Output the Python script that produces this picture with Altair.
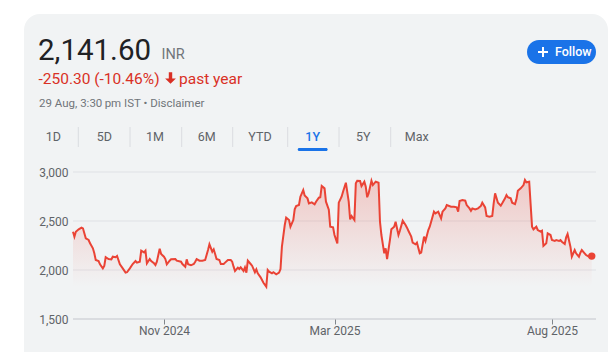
import altair as alt
import pandas as pd

# ---------------- data ----------------
start_date = "2024-08-29"
# days since 29 Aug 2024 for each traced point
day_offsets = [
    0, 1, 2, 4, 6, 7, 9, 11, 12, 14, 15, 16, 18, 19, 21, 22, 23, 25, 27, 28,
    30, 31, 33, 35, 37, 38, 40, 42, 44, 45, 47, 48, 50, 51, 52, 54, 55, 57, 58, 59,
    61, 62, 64, 65, 66, 68, 69, 72, 73, 76, 77, 79, 80, 81, 83, 85, 86, 87, 89, 91,
    93, 95, 96, 98, 99, 100, 101, 103, 104, 106, 107, 109, 111, 112, 113, 114, 116, 117, 118, 120,
    121, 122, 123, 125, 126, 128, 129, 130, 132, 134, 136, 137, 138, 140, 141, 143, 145, 146, 147, 149,
    150, 152, 153, 155, 156, 157, 159, 160, 162, 163, 165, 166, 168, 170, 171, 173, 174, 175, 177, 178,
    180, 181, 183, 184, 186, 187, 189, 190, 192, 194, 195, 196, 198, 199, 200, 202, 203, 205, 206, 207,
    208, 210, 211, 213, 215, 216, 217, 219, 220, 221, 223, 224, 226, 227, 229, 230, 232, 234, 235, 236,
    238, 239, 241, 242, 244, 245, 247, 248, 250, 251, 252, 254, 255, 257, 259, 260, 262, 263, 266, 268,
    270, 271, 272, 274, 276, 277, 279, 280, 281, 283, 285, 287, 288, 290, 291, 293, 295, 296, 297, 299,
    301, 302, 304, 305, 306, 308, 309, 311, 312, 313, 315, 317, 318, 319, 321, 323, 324, 326, 327, 329,
    330, 331, 333, 334, 336, 337, 339, 340, 342, 343, 344, 346, 347, 348, 350, 351, 353, 354, 356, 357,
    358, 360, 361, 363, 365,
]
prices = [
    2390, 2340, 2390, 2415, 2432, 2425, 2323, 2306, 2272, 2221, 2170, 2102, 2092, 2058, 2017, 2041, 2130, 2112, 2109, 2136,
    2130, 2143, 2058, 2017, 1973, 1977, 2017, 2061, 2092, 2075, 2085, 2197, 2180, 2197, 2068, 2112, 2092, 2068, 2051, 2085,
    2217, 2163, 2136, 2112, 2058, 2095, 2109, 2112, 2095, 2085, 2061, 2034, 2109, 2058, 2048, 2061, 2085, 2112, 2095, 2095,
    2102, 2204, 2262, 2187, 2211, 2163, 2112, 2102, 2061, 2061, 2075, 2102, 2102, 2085, 2034, 1990, 2024, 2010, 2027, 1990,
    2027, 1973, 2095, 2061, 2044, 1977, 2007, 1966, 1925, 1870, 1830, 2000, 1983, 1966, 1977, 1956, 1973, 2010, 2238, 2459,
    2534, 2510, 2442, 2510, 2619, 2653, 2663, 2748, 2816, 2760, 2731, 2680, 2690, 2670, 2697, 2738, 2742, 2857, 2833, 2697,
    2615, 2442, 2435, 2357, 2272, 2687, 2748, 2799, 2891, 2697, 2517, 2551, 2510, 2884, 2911, 2908, 2857, 2901, 2850, 2742,
    2782, 2911, 2867, 2901, 2891, 2493, 2357, 2170, 2221, 2112, 2306, 2415, 2442, 2493, 2357, 2401, 2503, 2459, 2432, 2401,
    2340, 2279, 2262, 2279, 2170, 2177, 2340, 2296, 2408, 2442, 2493, 2595, 2578, 2595, 2527, 2595, 2629, 2663, 2646, 2646,
    2639, 2595, 2704, 2714, 2707, 2663, 2629, 2605, 2629, 2619, 2629, 2653, 2687, 2639, 2551, 2544, 2551, 2680, 2782, 2687,
    2656, 2680, 2731, 2765, 2742, 2731, 2687, 2673, 2721, 2809, 2833, 2867, 2918, 2895, 2901, 2442, 2415, 2442, 2408, 2391,
    2401, 2245, 2272, 2374, 2357, 2306, 2296, 2306, 2296, 2306, 2289, 2265, 2333, 2367, 2238, 2136, 2204, 2170, 2136, 2177,
    2204, 2170, 2153, 2136, 2141.60,
]
y_ticks = [1500, 2000, 2500, 3000]
x_tick_dates = [(2024, 11, 1), (2025, 3, 1), (2025, 8, 1)]
tabs = ["1D", "5D", "1M", "6M", "YTD", "1Y", "5Y", "Max"]
selected_tab = "1Y"
price_text = "2,141.60"
currency_text = "INR"
change_text = "-250.30 (-10.46%)"
period_text = "past year"
stamp_text = "29 Aug, 3:30\u2009pm IST \u2022 Disclaimer"
follow_text = "Follow"

# ---------------- layout (page pixels) ----------------
PLOT_L, PLOT_T, PLOT_R, PLOT_B = 73, 172, 596, 319
W, H = 611, 352
def px(x):
    return x - PLOT_L
def py(y):
    return y - PLOT_T

tab_centers = [53.3, 104.3, 155, 206.7, 260, 312.7, 363.3, 416.7]
tab_separators = [78.3, 130, 181.7, 232.7, 287.7, 339, 390.7]

FONT = "Roboto"
RED_LINE = "#ea4335"
RED_TEXT = "#d93025"
BLUE = "#1a73e8"
CARD = "#f1f3f4"

df = pd.DataFrame({
    "date": pd.Timestamp(start_date) + pd.to_timedelta(day_offsets, unit="D"),
    "price": prices,
})
last_df = df.tail(1)
min_price = min(prices)

one = pd.DataFrame({"k": [0]})

def dt(t):
    return alt.DateTime(year=t[0], month=t[1], date=t[2])

x_enc = alt.X(
    "date:T",
    scale=alt.Scale(domain=[dt((2024, 8, 29)), dt((2025, 9, 1))]),
    axis=alt.Axis(
        values=[dt(t) for t in x_tick_dates], format="%b %Y", title=None,
        grid=False, domain=False, ticks=True, tickSize=5, tickColor="#80868b",
        labelPadding=1, zindex=1, labelFlush=False,
    ),
)
y_enc = alt.Y(
    "price:Q",
    scale=alt.Scale(domain=[1500, 3000], nice=False, zero=False),
    axis=alt.Axis(
        values=y_ticks, format=",d", title=None, grid=False, domain=False,
        ticks=False, labelPadding=5, zindex=1,
    ),
)

layers = []

# card background
layers.append(
    alt.Chart(one).mark_rect(color=CARD, cornerRadius=16).encode(
        x=alt.value(px(24)), x2=alt.value(px(608)),
        y=alt.value(py(14)), y2=alt.value(py(380)),
    )
)

# follow button
layers.append(
    alt.Chart(one).mark_rect(color=BLUE, cornerRadius=12).encode(
        x=alt.value(px(527)), x2=alt.value(px(596)),
        y=alt.value(py(40)), y2=alt.value(py(64)),
    )
)
layers.append(
    alt.Chart(one).mark_rule(color="white", strokeWidth=2).encode(
        x=alt.value(px(538)), x2=alt.value(px(548)), y=alt.value(py(52)),
    )
)
layers.append(
    alt.Chart(one).mark_rule(color="white", strokeWidth=2).encode(
        x=alt.value(px(543)), y=alt.value(py(47)), y2=alt.value(py(57)),
    )
)

def text_layer(txt, x, y, size, color, weight="normal", align="left", baseline="alphabetic"):
    return alt.Chart(pd.DataFrame({"t": [txt]})).mark_text(
        align=align, baseline=baseline, font=FONT, fontSize=size,
        color=color, fontWeight=weight,
    ).encode(x=alt.value(px(x)), y=alt.value(py(y)), text="t:N")

layers.append(text_layer(follow_text, 555, 56, 12.5, "white", weight=500))
layers.append(text_layer(price_text, 38, 60, 29.5, "#202124"))
layers.append(text_layer(currency_text, 161.5, 59, 14.5, "#70757a"))
layers.append(text_layer(change_text, 38.5, 83.5, 15.5, RED_TEXT))
layers.append(text_layer(period_text, 179, 83.5, 15.5, RED_TEXT))
layers.append(text_layer(stamp_text, 39, 106.5, 11.5, "#70757a"))

# down arrow icon
arrow_path = "M-0.3,-1 L0.3,-1 L0.3,0.1 L0.95,0.1 L0,1 L-0.95,0.1 L-0.3,0.1 Z"
layers.append(
    alt.Chart(one).mark_point(shape=arrow_path, filled=True, color=RED_TEXT, size=130, opacity=1).encode(
        x=alt.value(px(170.5)), y=alt.value(py(78)),
    )
)

# tabs
for lab, cx in zip(tabs, tab_centers):
    col = BLUE if lab == selected_tab else "#5f6368"
    layers.append(text_layer(lab, cx, 141, 12.5, col, weight=500 if lab == selected_tab else "normal", align="center"))
for sx in tab_separators:
    layers.append(
        alt.Chart(one).mark_rule(color="#dadce0", strokeWidth=1).encode(
            x=alt.value(px(sx)), y=alt.value(py(127)), y2=alt.value(py(147)),
        )
    )
sel_cx = tab_centers[tabs.index(selected_tab)]
layers.append(
    alt.Chart(one).mark_rect(color=BLUE, cornerRadius=1.5).encode(
        x=alt.value(px(sel_cx - 15)), x2=alt.value(px(sel_cx + 15)),
        y=alt.value(py(148)), y2=alt.value(py(151)),
    )
)

# grid lines and baseline
grid_df = pd.DataFrame({"price": y_ticks[1:]})
base_df = pd.DataFrame({"price": y_ticks[:1]})
layers.append(alt.Chart(grid_df).mark_rule(color="#dfe1e5", strokeWidth=1).encode(y=y_enc))
layers.append(alt.Chart(base_df).mark_rule(color="#dadce0", strokeWidth=2).encode(y=y_enc))

# area, line, last-point dot
area = alt.Chart(df).mark_area(
    color=alt.Gradient(
        gradient="linear",
        stops=[
            alt.GradientStop(color="rgba(234,67,53,0.24)", offset=0),
            alt.GradientStop(color="rgba(234,67,53,0.0)", offset=1),
        ],
        x1=0, x2=0, y1=0, y2=1,
    ),
    interpolate="linear",
).encode(x=x_enc, y=y_enc, y2=alt.Y2(datum=min_price))
line = alt.Chart(df).mark_line(color=RED_LINE, strokeWidth=2, interpolate="linear").encode(x=x_enc, y=y_enc)
dot = alt.Chart(last_df).mark_circle(color=RED_LINE, size=55, opacity=1).encode(x=x_enc, y=y_enc)
layers += [area, line, dot]

chart = alt.layer(*layers).properties(
    width=PLOT_R - PLOT_L,
    height=PLOT_B - PLOT_T,
    autosize=alt.AutoSizeParams(type="none"),
    padding={"left": PLOT_L, "top": PLOT_T, "right": W - PLOT_R, "bottom": H - PLOT_B},
    background="white",
).configure_view(stroke=None).configure_axis(
    labelFont=FONT, labelFontSize=12, labelColor="#5f6368",
)

chart.save("out.html", embed_options={"renderer": "svg", "actions": False})
